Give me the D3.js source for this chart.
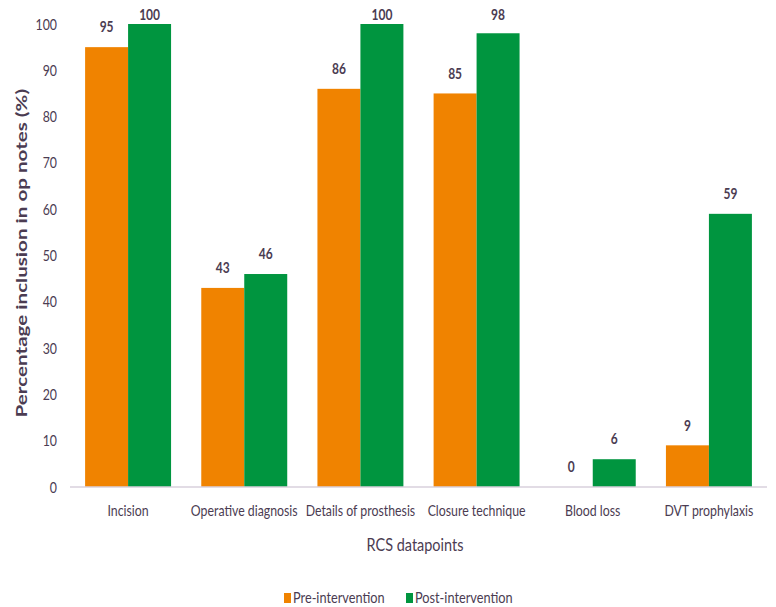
<!DOCTYPE html>
<html>
<head>
<meta charset="utf-8">
<script src="https://d3js.org/d3.v7.min.js"></script>
<style>
  html, body { margin: 0; padding: 0; background: #fff; }
  svg text { font-family: Lato, "Open Sans", sans-serif; fill: #4b3c52; }
</style>
</head>
<body>
<svg id="chart" width="776" height="607"></svg>
<script>
const categories = ["Incision", "Operative diagnosis", "Details of prosthesis", "Closure technique", "Blood loss", "DVT prophylaxis"];
const preValues = [95, 43, 86, 85, 0, 9];
const postValues = [100, 46, 100, 98, 6, 59];
const seriesNames = ["Pre-intervention", "Post-intervention"];
const seriesColors = ["#f08300", "#00953f"];
const yTicks = [0, 10, 20, 30, 40, 50, 60, 70, 80, 90, 100];

const svg = d3.select("#chart");
const margin = { left: 70, right: 9, top: 24 };
const W = 776;
const plotBottom = 487;
const NARROW = 0.85; // horizontal squeeze for a condensed look

// Re-anchor a text at its own x/y and squeeze it horizontally.
function squeeze(sel, k = NARROW) {
  sel.each(function () {
    const t = d3.select(this);
    const tx = +t.attr("x") || 0, ty = +t.attr("y") || 0;
    t.attr("x", 0).attr("y", 0)
     .attr("transform", `translate(${tx},${ty}) scale(${k},1)`);
  });
}

const x = d3.scaleBand().domain(categories).range([margin.left, W - margin.right]).paddingInner(0.26).paddingOuter(0.13);
const xs = d3.scaleBand().domain([0, 1]).range([0, x.bandwidth()]);
const y = d3.scaleLinear().domain([0, 100]).range([plotBottom, margin.top]);

// y-axis tick labels only
const yAxis = d3.axisLeft(y).tickValues(yTicks).tickSize(0).tickPadding(0);
const gy = svg.append("g").attr("transform", "translate(57,0)").call(yAxis);
gy.select(".domain").remove();
gy.selectAll("text").style("font-size", "14.5px").attr("dy", "0.35em").call(squeeze);

// grouped bars
const rows = categories.map((c, i) => ({ c, vals: [preValues[i], postValues[i]] }));
const groups = svg.append("g").selectAll("g").data(rows).join("g")
  .attr("transform", d => `translate(${x(d.c)},0)`);

groups.selectAll("rect").data(d => d.vals.map((v, k) => ({ v, k }))).join("rect")
  .attr("x", d => xs(d.k))
  .attr("width", xs.bandwidth())
  .attr("y", d => y(d.v))
  .attr("height", d => y(0) - y(d.v))
  .attr("fill", d => seriesColors[d.k]);

// value labels, kept inside the top of the plot
groups.selectAll("text.val").data(d => d.vals.map((v, k) => ({ v, k }))).join("text")
  .attr("class", "val")
  .attr("x", d => xs(d.k) + xs.bandwidth() / 2)
  .attr("y", d => Math.max(y(d.v) - 20, 15))
  .attr("dy", "0.35em")
  .attr("text-anchor", "middle")
  .style("font-size", "15px")
  .style("font-weight", "bold")
  .text(d => d.v)
  .call(squeeze, 0.8);

// x axis
const xAxis = d3.axisBottom(x).tickSize(0).tickPadding(19);
const gx = svg.append("g").attr("transform", `translate(0,${plotBottom})`).call(xAxis);
gx.select(".domain").attr("stroke", "#d8d0dc").attr("stroke-width", 1.5)
  .attr("d", `M${margin.left},0H${W - margin.right}`);
gx.selectAll("text").style("font-size", "14.5px").attr("dy", "0.71em").call(squeeze);

// axis titles
svg.append("text")
  .attr("x", 415).attr("y", 545)
  .attr("dy", "0.35em")
  .attr("text-anchor", "middle")
  .style("font-size", "17px")
  .text("RCS datapoints")
  .call(squeeze);

const yTitle = svg.append("text")
  .attr("dy", "0.35em")
  .attr("text-anchor", "middle")
  .style("font-size", "15px")
  .style("font-weight", "bold")
  .text("Percentage inclusion in op notes (%)");
// stretch the title along its length between the 15 and 86 gridline levels
const yTitleLen = yTitle.node().getComputedTextLength();
const yLo = y(15), yHi = y(86);
yTitle.attr("transform", `translate(22,${(yLo + yHi) / 2}) rotate(-90) scale(${(yLo - yHi) / yTitleLen},1)`);

// legend
const legend = svg.append("g").attr("transform", "translate(284,598)");
const legendX = [0, 122];
seriesNames.forEach((name, k) => {
  const g = legend.append("g").attr("transform", `translate(${legendX[k]},0)`);
  g.append("rect").attr("x", 0).attr("y", -5).attr("width", 7).attr("height", 10).attr("fill", seriesColors[k]);
  g.append("text").attr("x", 9).attr("y", 0).attr("dy", "0.35em").style("font-size", "15px").text(name).call(squeeze);
});
</script>
</body>
</html>
